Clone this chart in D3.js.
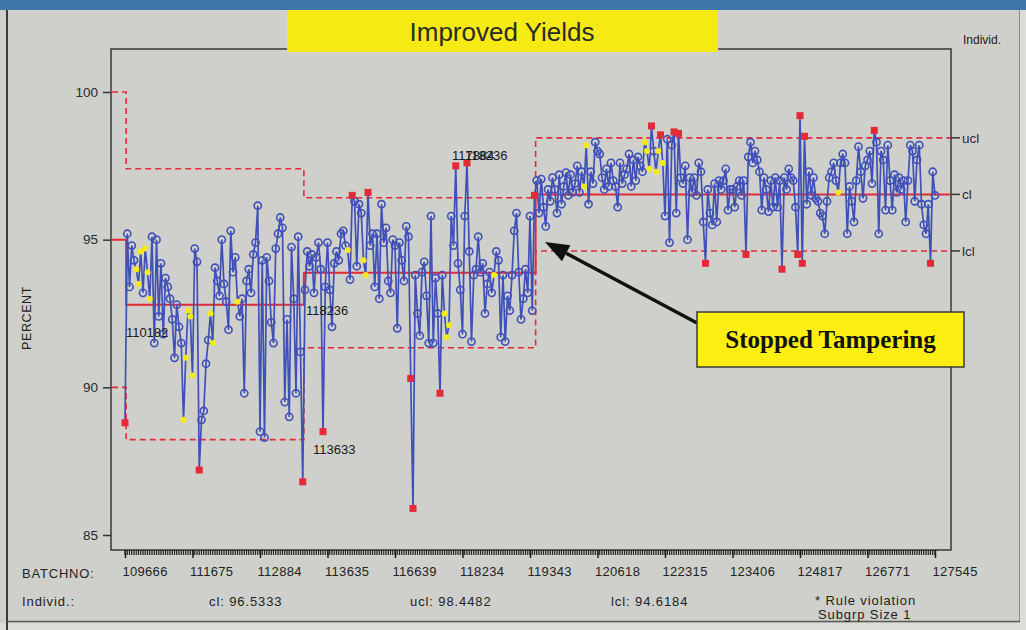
<!DOCTYPE html>
<html>
<head>
<meta charset="utf-8">
<script src="https://cdn.jsdelivr.net/npm/d3@7"></script>
<style>
  body { margin: 0; background: #cfd0cb; }
  svg { display: block; font-family: "Liberation Sans", Arial, sans-serif; }
</style>
</head>
<body>
<svg width="1026" height="630"></svg>
<script>
// --- Data ---
// yield per batch, in run order (361 batches)
const values = [
  88.8, 95.2, 93.4, 94.8, 94.3, 94.0, 93.5, 94.6, 93.2, 94.7,
  93.9, 93.0, 95.1, 91.5, 95.0, 92.4, 94.2, 91.8, 93.7, 93.4,
  93.0, 92.3, 91.0, 92.8, 92.05, 91.5, 88.9, 91.0, 92.6, 92.4,
  90.4, 94.7, 94.25, 87.2, 88.9, 89.2, 90.8, 91.6, 92.5, 91.5,
  94.05, 93.6, 93.1, 95.0, 93.5, 92.9, 91.95, 95.3, 93.9, 94.4,
  92.9, 92.4, 93.0, 89.8, 93.6, 94.0, 93.2, 94.5, 94.9, 96.15,
  88.5, 94.3, 88.3, 94.4, 93.6, 92.2, 91.5, 94.7, 95.2, 95.75,
  95.4, 89.5, 92.3, 89.0, 94.75, 93.0, 89.8, 95.1, 91.2, 86.8,
  93.3, 94.6, 94.1, 94.5, 93.2, 94.4, 94.9, 94.0, 88.5, 93.4,
  94.9, 93.3, 92.05, 94.2, 94.6, 94.3, 95.2, 95.3, 94.8, 94.65,
  93.65, 96.5, 96.3, 94.1, 96.2, 95.9, 94.3, 93.8, 96.6, 94.8,
  95.2, 93.4, 95.2, 93.0, 96.2, 94.9, 95.4, 93.6, 93.2, 95.0,
  94.8, 92.0, 94.9, 94.3, 93.6, 95.45, 95.1, 90.3, 85.9, 93.8,
  92.5, 91.75, 93.9, 94.25, 93.1, 91.5, 95.8, 91.5, 93.7, 92.5,
  89.8, 93.8, 92.5, 91.7, 92.1, 95.8, 94.8, 97.5, 94.2, 93.3,
  91.8, 95.8, 97.6, 94.6, 91.55, 93.8, 94.0, 95.1, 93.9, 94.2,
  92.5, 93.5, 93.9, 93.2, 93.8, 94.6, 94.3, 91.7, 93.8, 91.55,
  93.1, 92.6, 93.8, 95.3, 95.9, 93.9, 92.3, 93.0, 94.0, 93.2,
  95.8, 92.6, 96.5, 97.0, 95.9, 97.05, 96.1, 95.45, 96.7, 96.3,
  97.1, 96.7, 95.9, 97.2, 96.2, 96.8, 97.27, 96.5, 97.2, 96.6,
  96.9, 97.5, 96.6, 97.3, 96.8, 98.2, 96.2, 97.3, 96.9, 98.3,
  98.0, 97.9, 97.1, 96.7, 97.4, 96.8, 97.6, 97.0, 96.8, 96.1,
  97.6, 96.9, 97.2, 97.4, 97.9, 96.8, 97.7, 97.0, 97.8, 97.5,
  97.3, 98.3, 98.0, 97.4, 98.85, 98.0, 97.3, 98.0, 98.55, 97.6,
  95.8, 98.4, 94.9, 98.2, 98.65, 95.9, 98.6, 97.1, 96.9, 97.5,
  95.0, 97.1, 96.6, 97.1, 96.5, 97.6, 97.3, 95.6, 94.2, 96.7,
  95.9, 95.5, 96.9, 95.6, 97.0, 96.7, 97.0, 97.4, 96.0, 96.7,
  96.7, 96.1, 96.8, 97.0, 96.5, 97.0, 94.5, 97.8, 98.3, 97.6,
  98.0, 97.7, 97.3, 96.0, 97.1, 96.7, 95.95, 97.0, 96.1, 97.1,
  96.1, 97.0, 94.0, 97.1, 96.7, 97.4, 97.1, 97.0, 96.1, 94.5,
  99.2, 94.2, 98.5, 96.2, 97.3, 96.5, 97.1, 96.4, 96.3, 95.9,
  95.8, 95.2, 96.3, 97.1, 97.3, 97.6, 97.0, 96.6, 97.6, 97.9,
  97.6, 95.2, 96.8, 96.3, 95.6, 97.0, 98.15, 97.3, 96.4, 97.5,
  97.7, 98.0, 96.9, 98.7, 98.3, 95.2, 98.0, 97.7, 96.0, 98.2,
  97.0, 96.0, 97.2, 96.6, 97.1, 96.7, 97.0, 95.6, 97.0, 98.2,
  98.0, 96.3, 97.7, 98.2, 96.2, 95.5, 95.2, 96.2, 94.2, 97.3,
  96.5
];

// batch number shown every 30 batches
const batchLabels = ["109666", "111675", "112884", "113635", "116639", "118234", "119343",
                     "120618", "122315", "123406", "124817", "126771", "127545"];
const labelStep = 30;

// control limit phases (first batch index of each phase)
const phaseStart = [0, 1, 80, 183];
const phaseUcl = [100, 97.40, 96.42, 98.4482];
const phaseCl  = [95, 92.80, 93.88, 96.5333];
const phaseLcl = [90, 88.23, 91.34, 94.6184];

// points flagged yellow (run rule violations)
const yellowIdx = [5, 6, 7, 9, 10, 11, 26, 27, 28, 29, 30, 38, 39, 50, 99, 106, 107,
                   142, 143, 144, 164, 204, 205, 231, 232, 233, 236, 237, 239, 317];

const yTicks = [85, 90, 95, 100];

// batch-number notes written on the plot
const noteText = ["110182", "118236", "113633", "117884", "118236"];
const noteIdx  = [0.4, 80.4, 83.6, 145.3, 151.1];
const noteVal  = [91.72, 92.46, 87.75, 97.7, 97.7];

const footerText = ["Individ.:", "cl: 96.5333", "ucl: 98.4482", "lcl: 94.6184"];
const footerX = [22, 209, 410, 611];

// --- Layout ---
const W = 1026, H = 630;
const frame = { left: 111, right: 951, top: 49, bottom: 550 };
const RED = "#e42a36", BLUE = "#3f50b8", YELLOW = "#f4ea1a";

const svg = d3.select("svg");

const x = d3.scaleLinear().domain([0, values.length - 1]).range([125, 935]);
const y = d3.scaleLinear().domain([85, 100]).range([535, 92]);

// --- Panel background ---
svg.append("rect").attr("width", W).attr("height", H).attr("fill", "#cfd0cb");
svg.append("rect").attr("width", W).attr("height", 10).attr("fill", "#3e76a8");
svg.append("rect").attr("x", 1020).attr("y", 10).attr("width", 6).attr("height", H - 10).attr("fill", "#dcdcd9");
svg.append("rect").attr("x", 0).attr("y", 623).attr("width", W).attr("height", 7).attr("fill", "#dcdcd9");
svg.append("line").attr("x1", 7).attr("x2", 7).attr("y1", 10).attr("y2", H)
  .attr("stroke", "#3a3a3a").attr("stroke-width", 2);
svg.append("line").attr("x1", 1019.5).attr("x2", 1019.5).attr("y1", 10).attr("y2", 622)
  .attr("stroke", "#8d8d8a").attr("stroke-width", 1);
svg.append("line").attr("x1", 7).attr("x2", 1020).attr("y1", 621.5).attr("y2", 621.5)
  .attr("stroke", "#5a5a58").attr("stroke-width", 1.5);

// plot frame
svg.append("rect")
  .attr("x", frame.left).attr("y", frame.top)
  .attr("width", frame.right - frame.left).attr("height", frame.bottom - frame.top)
  .attr("fill", "none").attr("stroke", "#383838").attr("stroke-width", 1.5);

// --- Control limits as step lines ---
function limitPoints(levels) {
  const pts = [];
  phaseStart.forEach((s, p) => {
    const x0 = p === 0 ? frame.left + 1 : x(s - 0.5);
    const x1 = p === phaseStart.length - 1 ? frame.right - 1 : x(phaseStart[p + 1] - 0.5);
    pts.push([x0, y(levels[p])], [x1, y(levels[p])]);
  });
  return pts;
}
const stepLine = d3.line();
const g = svg.append("g");
g.append("path").attr("d", stepLine(limitPoints(phaseUcl)))
  .attr("fill", "none").attr("stroke", RED).attr("stroke-width", 1.6).attr("stroke-dasharray", "6,4");
g.append("path").attr("d", stepLine(limitPoints(phaseLcl)))
  .attr("fill", "none").attr("stroke", RED).attr("stroke-width", 1.6).attr("stroke-dasharray", "6,4");
g.append("path").attr("d", stepLine(limitPoints(phaseCl)))
  .attr("fill", "none").attr("stroke", RED).attr("stroke-width", 2);

// --- Data line ---
g.append("path")
  .datum(values)
  .attr("fill", "none").attr("stroke", BLUE).attr("stroke-width", 1.7)
  .attr("d", d3.line().x((d, i) => x(i)).y(d => y(d)));

// --- Markers ---
function phaseOf(i) {
  let p = 0;
  phaseStart.forEach((s, k) => { if (i >= s) p = k; });
  return p;
}
const pts = values.map((v, i) => {
  const p = phaseOf(i);
  let kind = "ok";
  if (v > phaseUcl[p] || v < phaseLcl[p]) kind = "out";
  else if (yellowIdx.includes(i)) kind = "rule";
  return { i, v, kind };
});

g.selectAll(".ok").data(pts.filter(d => d.kind === "ok")).join("circle")
  .attr("class", "ok")
  .attr("cx", d => x(d.i)).attr("cy", d => y(d.v)).attr("r", 3.6)
  .attr("fill", "none").attr("stroke", BLUE).attr("stroke-width", 1.6);

g.selectAll(".rule").data(pts.filter(d => d.kind === "rule")).join("circle")
  .attr("class", "rule")
  .attr("cx", d => x(d.i)).attr("cy", d => y(d.v)).attr("r", 3)
  .attr("fill", YELLOW);

g.selectAll(".out").data(pts.filter(d => d.kind === "out")).join("rect")
  .attr("class", "out")
  .attr("x", d => x(d.i) - 3.5).attr("y", d => y(d.v) - 3.5)
  .attr("width", 7).attr("height", 7)
  .attr("fill", RED);

// notes
g.selectAll(".note").data(noteText).join("text")
  .attr("class", "note")
  .attr("x", (d, i) => x(noteIdx[i])).attr("y", (d, i) => y(noteVal[i]))
  .attr("font-size", 13).attr("fill", "#1a1a1a")
  .text(d => d);

// --- Axes ---
const yAxis = svg.append("g")
  .attr("transform", `translate(${frame.left},0)`)
  .call(d3.axisLeft(y).tickValues(yTicks).tickSize(8).tickPadding(5));
yAxis.select(".domain").remove();
yAxis.selectAll("line").attr("stroke", "#333").attr("stroke-width", 1.5);
yAxis.selectAll("text").attr("font-size", 13.5).attr("fill", "#2a2a2a")
  .attr("font-family", "'Liberation Sans', Arial, sans-serif");

// minor ticks for every batch
svg.append("g").selectAll("line").data(values).join("line")
  .attr("x1", (d, i) => x(i)).attr("x2", (d, i) => x(i))
  .attr("y1", frame.bottom).attr("y2", frame.bottom + 5)
  .attr("stroke", "#1e1e1e").attr("stroke-width", 1.2);

const majorIdx = batchLabels.map((b, k) => k * labelStep);
const xAxis = svg.append("g")
  .attr("transform", `translate(0,${frame.bottom})`)
  .call(d3.axisBottom(x).tickValues(majorIdx).tickSize(8).tickPadding(9)
    .tickFormat((d, k) => batchLabels[k]));
xAxis.select(".domain").remove();
xAxis.selectAll("line").attr("stroke", "#1e1e1e").attr("stroke-width", 1.5);
xAxis.selectAll("text")
  .attr("text-anchor", "start").attr("dx", -3)
  .attr("font-size", 13).attr("letter-spacing", 0.3).attr("fill", "#222")
  .attr("font-family", "'Liberation Sans', Arial, sans-serif");

svg.append("text").attr("x", 22).attr("y", 578)
  .attr("font-size", 13).attr("letter-spacing", 0.8).attr("fill", "#222").text("BATCHNO:");

svg.append("text")
  .attr("transform", "translate(31,318) rotate(-90)")
  .attr("text-anchor", "middle").attr("font-size", 12.5).attr("letter-spacing", 0.6)
  .attr("fill", "#222").text("PERCENT");

// right axis: limits of the final phase
const last = phaseStart.length - 1;
const rightTicks = [["ucl", phaseUcl[last]], ["cl", phaseCl[last]], ["lcl", phaseLcl[last]]];
const rg = svg.append("g").selectAll("g").data(rightTicks).join("g")
  .attr("transform", d => `translate(${frame.right},${y(d[1])})`);
rg.append("line").attr("x2", 9).attr("stroke", "#333").attr("stroke-width", 1.5);
rg.append("text").attr("x", 11).attr("dy", "0.35em")
  .attr("font-size", 13.5).attr("fill", "#2a2a2a").text(d => d[0]);

svg.append("text").attr("x", 963).attr("y", 44)
  .attr("font-size", 12).attr("fill", "#222").text("Individ.");

// --- Title ---
svg.append("rect").attr("x", 287).attr("y", 10).attr("width", 431).attr("height", 42)
  .attr("fill", "#f6ea14");
svg.append("text").attr("x", 502).attr("y", 41)
  .attr("text-anchor", "middle").attr("font-size", 26).attr("fill", "#2a2a2a")
  .text("Improved Yields");

// --- Footer ---
svg.append("g").selectAll("text").data(footerText).join("text")
  .attr("x", (d, i) => footerX[i]).attr("y", 606)
  .attr("font-size", 13).attr("letter-spacing", 0.9).attr("fill", "#222")
  .text(d => d);
svg.append("text").attr("x", 815).attr("y", 605)
  .attr("font-size", 13).attr("letter-spacing", 0.9).attr("fill", "#222").text("* Rule violation");
svg.append("text").attr("x", 818).attr("y", 619)
  .attr("font-size", 13).attr("letter-spacing", 0.9).attr("fill", "#222").text("Subgrp Size 1");

// --- "Stopped Tampering" callout ---
const box = { x: 697, y: 312, w: 267, h: 55 };
const tip = [545, 242], tail = [697, 323];
const ang = Math.atan2(tip[1] - tail[1], tip[0] - tail[0]);
const headLen = 24, headHalf = 9;
const base = [tip[0] - headLen * Math.cos(ang), tip[1] - headLen * Math.sin(ang)];
svg.append("line")
  .attr("x1", tail[0]).attr("y1", tail[1]).attr("x2", base[0]).attr("y2", base[1])
  .attr("stroke", "#111").attr("stroke-width", 3.5);
svg.append("polygon")
  .attr("points", [
    tip,
    [base[0] + headHalf * Math.sin(ang), base[1] - headHalf * Math.cos(ang)],
    [base[0] - headHalf * Math.sin(ang), base[1] + headHalf * Math.cos(ang)]
  ].map(p => p.join(",")).join(" "))
  .attr("fill", "#111");

svg.append("rect").attr("x", box.x).attr("y", box.y).attr("width", box.w).attr("height", box.h)
  .attr("fill", "#fbee10").attr("stroke", "#3a3a3a").attr("stroke-width", 1.5);
svg.append("text").attr("x", box.x + box.w / 2).attr("y", box.y + 36)
  .attr("text-anchor", "middle")
  .attr("font-family", "'Liberation Serif', 'Times New Roman', serif")
  .attr("font-weight", "bold").attr("font-size", 25).attr("fill", "#111")
  .text("Stopped Tampering");
</script>
</body>
</html>
